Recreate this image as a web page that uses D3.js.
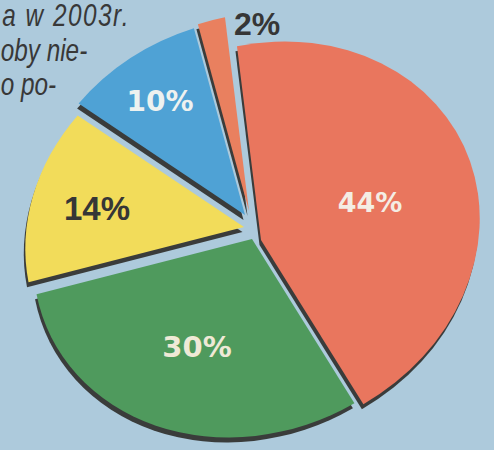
<!DOCTYPE html>
<html><head><meta charset="utf-8">
<script src="https://cdn.jsdelivr.net/npm/d3@7"></script>
<style>
html,body{margin:0;padding:0;background:#adcadc;}
svg{display:block;}
</style></head>
<body>
<svg id="chart" width="494" height="450"></svg>
<script>
const categories = ["A", "B", "C", "D", "E"];
const values = [44, 30, 14, 10, 2];
const labels = ["44%", "30%", "14%", "10%", "2%"];
const colors = ["#e9765e", "#4f9a5d", "#f2dc5a", "#4fa2d5", "#e9805f"];
const labelColors = ["#f4ede4", "#efe9d6", "#363636", "#eef2f0", "#363636"];
const introLines = ["a w 2003r.", "oby nie-", "o po-"];

const svg = d3.select("#chart");
const W = 494, H = 450;
svg.append("rect").attr("width", W).attr("height", H).attr("fill", "#adcadc");

// intro text (condensed italic)
const introX = [3, 1, 1], introY = [26, 61, 95], introSpacing = [2, 0, 0];
svg.append("g").attr("transform", "scale(0.76,1)")
  .selectAll("text").data(introLines).join("text")
  .attr("x", (d, i) => introX[i]).attr("y", (d, i) => introY[i])
  .attr("letter-spacing", (d, i) => introSpacing[i])
  .attr("font-family", "'Liberation Sans', Arial, sans-serif")
  .attr("font-style", "italic")
  .attr("font-size", 32)
  .attr("fill", "#383838")
  .text(d => d);

// pie geometry (tilted view: affine matrix)
const cx = 252, cy = 227, R = 218;
const M = [1, -0.025, -0.082, 0.91]; // a, b, c, d
const startA = -11 * Math.PI / 180;
const pie = d3.pie().sort(null).startAngle(startA).endAngle(startA + 2 * Math.PI).value(d => d);
const arcs = pie(values);
const arc = d3.arc().innerRadius(0).outerRadius(R);
// screen-space explode offsets per slice
const explodeOffsets = [[9, 13], [0, 12], [-8, 0], [-7, -12], [-3, -16]];
const shadowOffset = [-1.5, 5];

function mat(d, i) {
  const o = explodeOffsets[i];
  return `translate(${o[0]},${o[1]}) matrix(${M[0]},${M[1]},${M[2]},${M[3]},0,0)`;
}

const shadow = svg.append("g").attr("transform", `translate(${cx + shadowOffset[0]},${cy + shadowOffset[1]})`);
shadow.selectAll("path").data(arcs).join("path")
  .attr("d", arc)
  .attr("fill", "#3a3c3b")
  .attr("transform", mat);

const g = svg.append("g").attr("transform", `translate(${cx},${cy})`);
g.selectAll("path").data(arcs).join("path")
  .attr("d", arc)
  .attr("fill", (d, i) => colors[i])
  .attr("transform", mat);

// labels
const labelPos = [[370, 212], [197, 357], [97, 220], [160, 111], [257, 35]];
const fs = [27, 29, 33, 28, 32];
const ff = ["DejaVu Sans", "DejaVu Sans", "Liberation Sans", "DejaVu Sans", "Liberation Sans"];
svg.append("g").selectAll("text").data(labels).join("text")
  .attr("x", (d, i) => labelPos[i][0])
  .attr("y", (d, i) => labelPos[i][1])
  .attr("text-anchor", "middle")
  .attr("font-family", (d, i) => ff[i] + ", Arial, sans-serif")
  .attr("font-weight", "bold")
  .attr("font-size", (d, i) => fs[i])
  .attr("fill", (d, i) => labelColors[i])
  .text(d => d);
</script>
</body></html>
